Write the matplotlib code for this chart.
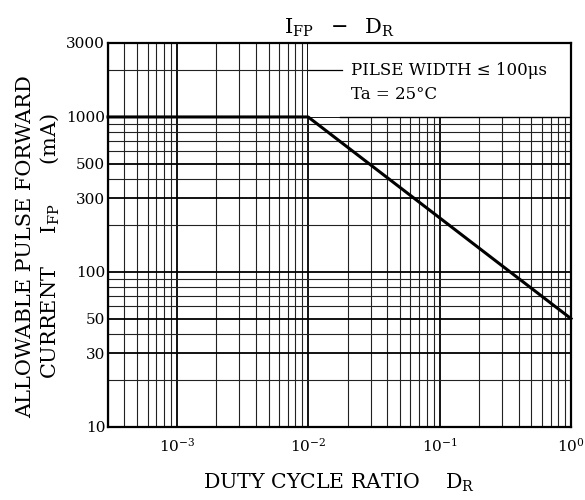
import matplotlib
matplotlib.use("Agg")
import matplotlib.pyplot as plt
import matplotlib.patches as patches
from matplotlib.ticker import FixedLocator, LogLocator, NullFormatter

# data
duty_ratio = [3e-4, 1e-2, 1.0]
pulse_current = [1000, 1000, 50]
y_ticks = [10, 30, 50, 100, 300, 500, 1000, 3000]
x_ticks = [1e-3, 1e-2, 1e-1, 1e0]
x_tick_labels = [r"$10^{-3}$", r"$10^{-2}$", r"$10^{-1}$", r"$10^{0}$"]
note_lines = ["PILSE WIDTH \u2264 100\u03bcs", "Ta = 25\u00b0C"]

plt.rcParams["font.family"] = ["DejaVu Serif"]
plt.rcParams["mathtext.fontset"] = "dejavuserif"

fig = plt.figure(figsize=(5.85, 5.0), dpi=100)
ax = fig.add_axes([0.1846, 0.146, 0.7915, 0.768])
ax.set_xscale("log")
ax.set_yscale("log")
ax.set_xlim(3e-4, 1.0)
ax.set_ylim(10, 3000)

# grid: bold decades, thinner minors
ax.xaxis.set_minor_locator(LogLocator(base=10, subs=range(2, 10)))
ax.yaxis.set_minor_locator(LogLocator(base=10, subs=range(2, 10)))
ax.grid(which="major", color="black", lw=1.3)
ax.grid(which="minor", color="#222222", lw=0.8)
ax.set_axisbelow(True)

ax.yaxis.set_major_locator(FixedLocator(y_ticks))
ax.set_yticklabels([str(v) for v in y_ticks])
ax.yaxis.set_minor_formatter(NullFormatter())
ax.set_xticks(x_ticks)
ax.set_xticklabels(x_tick_labels)
ax.xaxis.set_minor_formatter(NullFormatter())
ax.tick_params(which="both", length=0, labelsize=11)
ax.tick_params(axis="y", pad=2)
ax.tick_params(axis="x", pad=7)

for s in ax.spines.values():
    s.set_linewidth(1.6)

# white note box over the upper-right grid
box = patches.Rectangle((1e-2, 1000), 1.0 - 1e-2, 2000, facecolor="white",
                        edgecolor="none", zorder=1)
ax.add_patch(box)
ax.axhline(1000, xmin=0.5, xmax=1.0, color="black", lw=1.0, zorder=2)
ax.plot([1e-2, 1.8e-2], [2000, 2000], color="black", lw=0.9, zorder=2)
ax.text(0.021, 2000, note_lines[0], fontsize=12, va="center", ha="left", zorder=3)
ax.text(0.021, 1400, note_lines[1], fontsize=12, va="center", ha="left", zorder=3)

ax.plot(duty_ratio, pulse_current, color="black", lw=2.2, zorder=4, clip_on=False)

ax.set_title(r"$\mathrm{I_{FP}\ \ -\ \ D_R}$", fontsize=15, pad=7)
ax.set_xlabel(r"DUTY CYCLE RATIO    $\mathrm{D_R}$", fontsize=14.8, labelpad=12)
ax.set_ylabel("ALLOWABLE PULSE FORWARD\n" + r"CURRENT     $\mathrm{I_{FP}}$      (mA)",
              fontsize=15, labelpad=4, linespacing=1.15)
ax.yaxis.label.set_y(0.47)

fig.savefig("out.png", dpi=100)
